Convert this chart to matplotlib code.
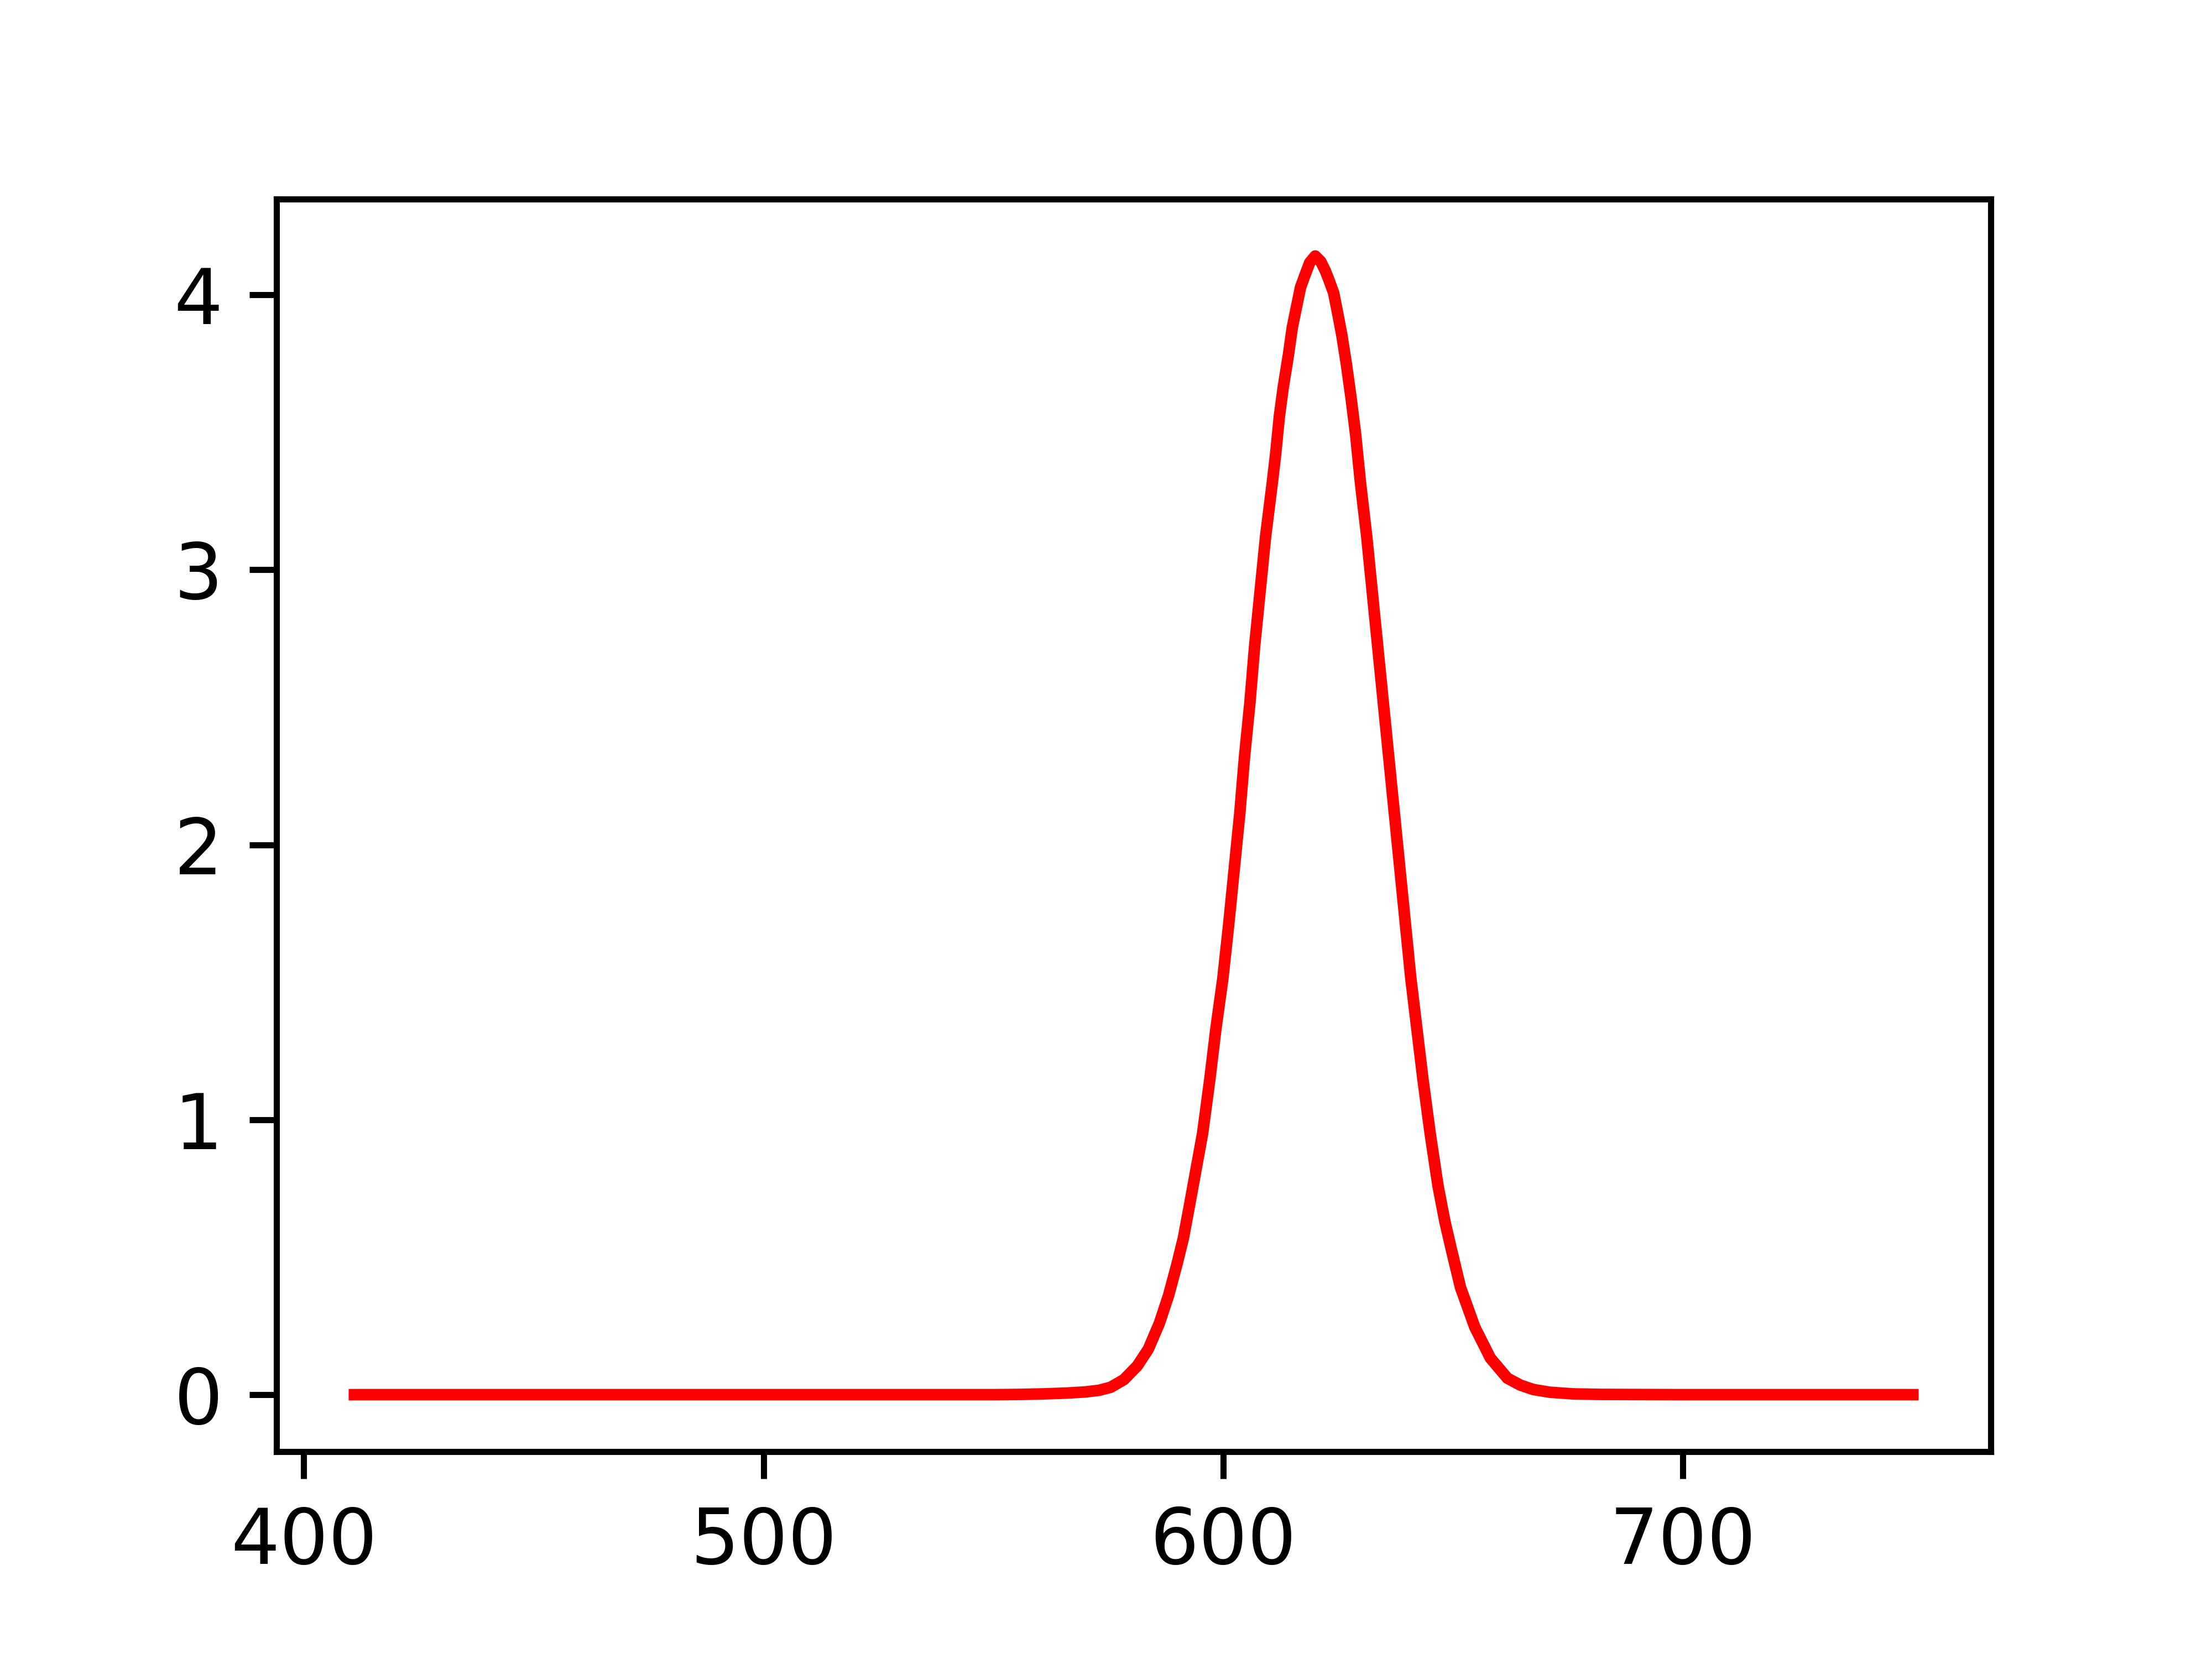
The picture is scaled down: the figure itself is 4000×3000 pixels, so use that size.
import numpy as np
import matplotlib
matplotlib.use('Agg')
import matplotlib.pyplot as plt

# emission spectrum (nm, intensity)
wl = [411, 450, 500, 550, 556, 561, 566, 570, 573, 575.5, 578.4, 581.3, 583.7,
      586.1, 588.1, 589.9, 591.3, 592.5, 593.7, 595.5, 597.1, 598.4, 599.9,
      601.2, 602.4, 603.6, 604.6, 605.8, 606.8, 608.0, 609.2, 610.7, 611.4,
      612.2, 613.0, 614.2, 615.0, 615.8, 616.8, 617.8, 618.8, 620.0,
      621.2, 622.2, 623.0, 624.0, 624.8, 625.8, 626.8, 627.8, 628.8, 629.8,
      631.2, 632.4, 633.6, 634.8, 636.0, 637.2, 638.4, 639.6, 640.8, 642.1,
      643.4, 645.0, 646.7, 648.2, 649.7, 651.6, 654.7, 658.1, 661.8, 664.6,
      667.4, 671, 676, 682, 700, 750]
inten = [0, 0, 0, 0, 0.001, 0.003, 0.006, 0.010, 0.016, 0.027, 0.055, 0.105,
         0.166, 0.260, 0.361, 0.473, 0.568, 0.675, 0.785, 0.950, 1.151, 1.332,
         1.513, 1.714, 1.915, 2.116, 2.317, 2.518, 2.719, 2.920, 3.121, 3.322,
         3.423, 3.558, 3.659, 3.785, 3.880, 3.946, 4.027, 4.073, 4.117, 4.141,
         4.121, 4.087, 4.053, 4.007, 3.940, 3.852, 3.745, 3.624, 3.490, 3.322,
         3.121, 2.920, 2.719, 2.518, 2.317, 2.116, 1.915, 1.714, 1.513, 1.332,
         1.151, 0.950, 0.760, 0.630, 0.522, 0.390, 0.246, 0.133, 0.060, 0.035,
         0.019, 0.009, 0.003, 0.001, 0, 0]

fig = plt.figure(figsize=(4, 3))
plt.subplots_adjust(bottom=0.125)
plt.plot(wl, inten, color='red', linewidth=1.5)
plt.savefig('out.png', dpi=1000)
